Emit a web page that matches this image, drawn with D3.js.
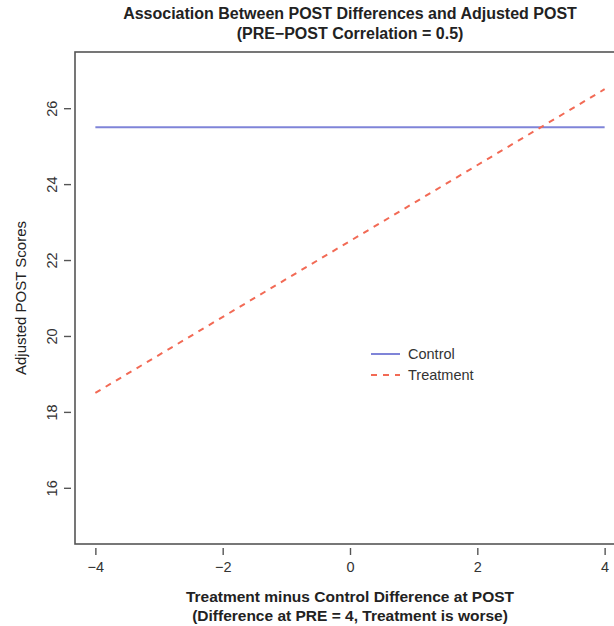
<!DOCTYPE html>
<html>
<head>
<meta charset="utf-8">
<script src="https://d3js.org/d3.v7.min.js"></script>
<style>
body { margin: 0; background: #fff; }
svg { font-family: "Liberation Sans", Arial, sans-serif; }
.title { font-weight: bold; font-size: 16px; fill: #222; }
.xlab { font-weight: bold; font-size: 15.5px; fill: #222; }
.tick text { font-size: 14.5px; fill: #333; }
</style>
</head>
<body>
<svg id="chart"></svg>
<script>
// data
var diffs = [-4, 4];
var control = [25.5, 25.5];
var treatment = [18.5, 26.5];
var xTicks = [-4, -2, 0, 2, 4];
var yTicks = [16, 18, 20, 22, 24, 26];
var seriesNames = ["Control", "Treatment"];
var seriesColors = ["#7f84d8", "#f26a55"];

var width = 614, height = 626;
var mLeft = 75, mRight = 625, mTop = 52, mBottom = 544;

var x = d3.scaleLinear().domain([-4.32, 4.32]).range([mLeft, mRight]);
var y = d3.scaleLinear().domain([14.52, 27.48]).range([mBottom, mTop]);

var svg = d3.select("#chart").attr("width", width).attr("height", height);

var fmt = function(d) { return d < 0 ? "\u2212" + Math.abs(d) : "" + d; };

// box
svg.append("rect")
    .attr("x", mLeft).attr("y", mTop)
    .attr("width", mRight - mLeft).attr("height", mBottom - mTop)
    .attr("fill", "none").attr("stroke", "#555").attr("stroke-width", 1.6);

// axes
var xAxis = svg.append("g")
    .attr("transform", "translate(0," + (mBottom + 4) + ")")
    .call(d3.axisBottom(x).tickValues(xTicks).tickSize(7).tickPadding(5).tickFormat(fmt));
xAxis.select(".domain").remove();
xAxis.selectAll("line").attr("stroke", "#555").attr("stroke-width", 1.4);
xAxis.selectAll("text").attr("dy", "0.85em");

var yAxis = svg.append("g")
    .attr("transform", "translate(" + (mLeft - 4) + ",0)")
    .call(d3.axisLeft(y).tickValues(yTicks).tickSize(7).tickPadding(6).tickFormat(fmt));
yAxis.select(".domain").remove();
yAxis.selectAll("line").attr("stroke", "#555").attr("stroke-width", 1.4);
yAxis.selectAll(".tick text")
    .attr("transform", "rotate(-90)")
    .attr("x", 0).attr("y", -19)
    .attr("dy", "0.35em")
    .style("text-anchor", "middle");

// lines
var line = function(vals) {
    return d3.line().x(function(d, i) { return x(diffs[i]); }).y(function(d) { return y(d); })(vals);
};
svg.append("path").attr("d", line(control))
    .attr("fill", "none").attr("stroke", seriesColors[0]).attr("stroke-width", 2);
svg.append("path").attr("d", line(treatment))
    .attr("fill", "none").attr("stroke", seriesColors[1]).attr("stroke-width", 2)
    .attr("stroke-dasharray", "6,6");

// legend
var legend = svg.append("g");
seriesNames.forEach(function(name, i) {
    var ly = 354 + i * 21;
    legend.append("line")
        .attr("x1", 371).attr("x2", 400).attr("y1", ly).attr("y2", ly)
        .attr("stroke", seriesColors[i]).attr("stroke-width", 2)
        .attr("stroke-dasharray", i == 0 ? null : "6,6");
    legend.append("text")
        .attr("x", 408).attr("y", ly).attr("dy", "0.35em")
        .style("font-size", "14.5px").style("fill", "#333")
        .text(name);
});

// titles
var cx = (mLeft + mRight) / 2;
svg.append("text").attr("class", "title").attr("x", cx).attr("y", 19)
    .style("text-anchor", "middle")
    .text("Association Between POST Differences and Adjusted POST");
svg.append("text").attr("class", "title").attr("x", cx).attr("y", 39)
    .style("text-anchor", "middle")
    .text("(PRE\u2212POST Correlation = 0.5)");

svg.append("text").attr("class", "xlab").attr("x", cx).attr("y", 602)
    .style("text-anchor", "middle")
    .text("Treatment minus Control Difference at POST");
svg.append("text").attr("class", "xlab").attr("x", cx).attr("y", 621)
    .style("text-anchor", "middle")
    .text("(Difference at PRE = 4, Treatment is worse)");

svg.append("text")
    .attr("transform", "rotate(-90)")
    .attr("x", -(mTop + mBottom) / 2).attr("y", 26)
    .style("text-anchor", "middle").style("font-size", "15px").style("fill", "#222")
    .text("Adjusted POST Scores");
</script>
</body>
</html>
